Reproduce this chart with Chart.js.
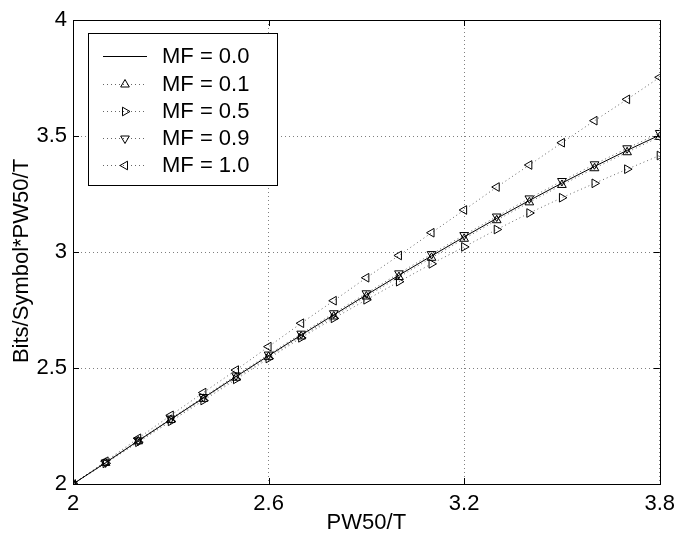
<!DOCTYPE html>
<html>
<head>
<meta charset="utf-8">
<script src="https://cdn.jsdelivr.net/npm/chart.js@4.4.1/dist/chart.umd.min.js"></script>
<style>
  body { margin: 0; background: #fff; }
  #wrap { width: 682px; height: 536px; }
</style>
</head>
<body>
<div id="wrap"><canvas id="mfChart"></canvas></div>
<script>
const pw50T = [2.0, 2.1, 2.2, 2.3, 2.4, 2.5, 2.6, 2.7, 2.8, 2.9, 3.0, 3.1, 3.2, 3.3, 3.4, 3.5, 3.6, 3.7, 3.8];
const mf00 = [2.000, 2.092, 2.186, 2.279, 2.371, 2.463, 2.553, 2.642, 2.729, 2.815, 2.900, 2.983, 3.065, 3.145, 3.222, 3.297, 3.369, 3.438, 3.504];
const mf01 = [2.000, 2.091, 2.184, 2.276, 2.367, 2.458, 2.548, 2.636, 2.722, 2.808, 2.892, 2.975, 3.057, 3.137, 3.214, 3.289, 3.361, 3.430, 3.496];
const mf05 = [2.000, 2.089, 2.180, 2.270, 2.360, 2.451, 2.541, 2.630, 2.714, 2.794, 2.872, 2.949, 3.022, 3.097, 3.168, 3.234, 3.296, 3.357, 3.416];
const mf09 = [2.000, 2.093, 2.188, 2.282, 2.375, 2.468, 2.558, 2.648, 2.736, 2.822, 2.908, 2.991, 3.073, 3.153, 3.231, 3.306, 3.378, 3.447, 3.513];
const mf10 = [2.000, 2.098, 2.197, 2.296, 2.394, 2.491, 2.592, 2.693, 2.790, 2.889, 2.985, 3.083, 3.181, 3.280, 3.375, 3.471, 3.566, 3.658, 3.753];

const seriesLabels = ["MF = 0.0", "MF = 0.1", "MF = 0.5", "MF = 0.9", "MF = 1.0"];
const xTicks = [2, 2.6, 3.2, 3.8];
const yTicks = [2, 2.5, 3, 3.5, 4];
const xTitle = "PW50/T";
const yTitle = "Bits/Symbol*PW50/T";

const FONT = '"Liberation Sans", Arial, Helvetica, sans-serif';
Chart.defaults.font.family = FONT;
Chart.defaults.font.size = 22;
Chart.defaults.color = "#000";

const toPoints = (ys) => ys.map((y, i) => ({ x: pw50T[i], y: y }));

// marker rotation per series: none, up, right, down, left
const markers = [null, 0, 90, 180, 270];
const series = [mf00, mf01, mf05, mf09, mf10];
const DOT = [1, 3];
const DOT_COLOR = "rgba(0,0,0,0.6)";
const R = 5;

const datasets = series.map((ys, i) => ({
  label: seriesLabels[i],
  data: toPoints(ys),
  borderColor: i === 0 ? "#000" : DOT_COLOR,
  borderWidth: 1,
  borderDash: i === 0 ? [] : DOT,
  pointStyle: "triangle",
  pointRotation: markers[i] === null ? 0 : markers[i],
  pointRadius: markers[i] === null ? 0 : R,
  pointBorderColor: "#000",
  pointBorderWidth: 1,
  pointBackgroundColor: "rgba(0,0,0,0)",
  tension: 0,
  order: 4 - i,
}));

function triangle(ctx, x, y, r, deg) {
  let rad = (deg * Math.PI) / 180;
  ctx.beginPath();
  for (let k = 0; k < 3; k++) {
    const px = x + Math.sin(rad) * r;
    const py = y - Math.cos(rad) * r;
    if (k === 0) ctx.moveTo(px, py);
    else ctx.lineTo(px, py);
    rad += (2 * Math.PI) / 3;
  }
  ctx.closePath();
  ctx.stroke();
}

const framePlugin = {
  id: "frame",
  afterDatasetsDraw(chart) {
    const { ctx, chartArea: a, scales } = chart;
    ctx.save();
    // box round the axes
    ctx.strokeStyle = "#000";
    ctx.lineWidth = 1;
    ctx.setLineDash([]);
    ctx.strokeRect(Math.round(a.left) + 0.5, Math.round(a.top) + 0.5,
      Math.round(a.right - a.left), Math.round(a.bottom - a.top));
    // inward tick marks
    const tl = 6;
    ctx.beginPath();
    xTicks.forEach((v) => {
      const px = Math.round(scales.x.getPixelForValue(v)) + 0.5;
      ctx.moveTo(px, a.bottom);
      ctx.lineTo(px, a.bottom - tl);
      ctx.moveTo(px, a.top);
      ctx.lineTo(px, a.top + tl);
    });
    yTicks.forEach((v) => {
      const py = Math.round(scales.y.getPixelForValue(v)) + 0.5;
      ctx.moveTo(a.left, py);
      ctx.lineTo(a.left + tl, py);
      ctx.moveTo(a.right, py);
      ctx.lineTo(a.right - tl, py);
    });
    ctx.stroke();

    // legend box
    const bx = 88.5, by = 33.5, bw = 189, bh = 152;
    ctx.fillStyle = "#fff";
    ctx.fillRect(bx, by, bw, bh);
    ctx.strokeRect(bx, by, bw, bh);
    const rowY = [56, 83.5, 111, 138, 165];
    ctx.font = "22px " + FONT;
    ctx.textAlign = "left";
    ctx.textBaseline = "middle";
    seriesLabels.forEach((lab, i) => {
      const y = Math.round(rowY[i]) + 0.5;
      ctx.strokeStyle = i === 0 ? "#000" : DOT_COLOR;
      ctx.setLineDash(i === 0 ? [] : DOT);
      ctx.beginPath();
      ctx.moveTo(103, y);
      ctx.lineTo(147, y);
      ctx.stroke();
      ctx.setLineDash([]);
      ctx.strokeStyle = "#000";
      if (markers[i] !== null) {
        ctx.fillStyle = "#fff";
        triangle(ctx, 125, y, R, markers[i]);
      }
      ctx.fillStyle = "#000";
      ctx.fillText(lab, 162, rowY[i] + 1);
    });

    // y title
    ctx.translate(22, 261);
    ctx.rotate(-Math.PI / 2);
    ctx.textAlign = "center";
    ctx.fillText(yTitle, 0, 0);
    ctx.restore();
  },
};

new Chart(document.getElementById("mfChart"), {
  type: "line",
  data: { datasets: datasets },
  options: {
    responsive: true,
    maintainAspectRatio: false,
    animation: false,
    layout: { padding: { left: 0, top: 20, right: 19, bottom: 0 } },
    plugins: {
      legend: { display: false },
      tooltip: { enabled: false },
    },
    scales: {
      x: {
        type: "linear",
        min: 2,
        max: 3.8,
        afterBuildTicks: (s) => { s.ticks = xTicks.map((v) => ({ value: v })); },
        afterFit: (s) => { s.height = 52; },
        ticks: { autoSkip: false, maxRotation: 0, padding: 7, callback: (v) => String(v) },
        grid: { drawTicks: false, color: "rgba(0,0,0,0.5)", lineWidth: 1 },
        border: { display: false, dash: [1, 3] },
        title: { display: true, text: xTitle, padding: 0, font: { size: 22 } },
      },
      y: {
        type: "linear",
        min: 2,
        max: 4,
        afterBuildTicks: (s) => { s.ticks = yTicks.map((v) => ({ value: v })); },
        afterFit: (s) => { s.width = 73; },
        ticks: { autoSkip: false, padding: 6, callback: (v) => String(v) },
        grid: { drawTicks: false, color: "rgba(0,0,0,0.5)", lineWidth: 1 },
        border: { display: false, dash: [1, 3] },
      },
    },
  },
  plugins: [framePlugin],
});
</script>
</body>
</html>
